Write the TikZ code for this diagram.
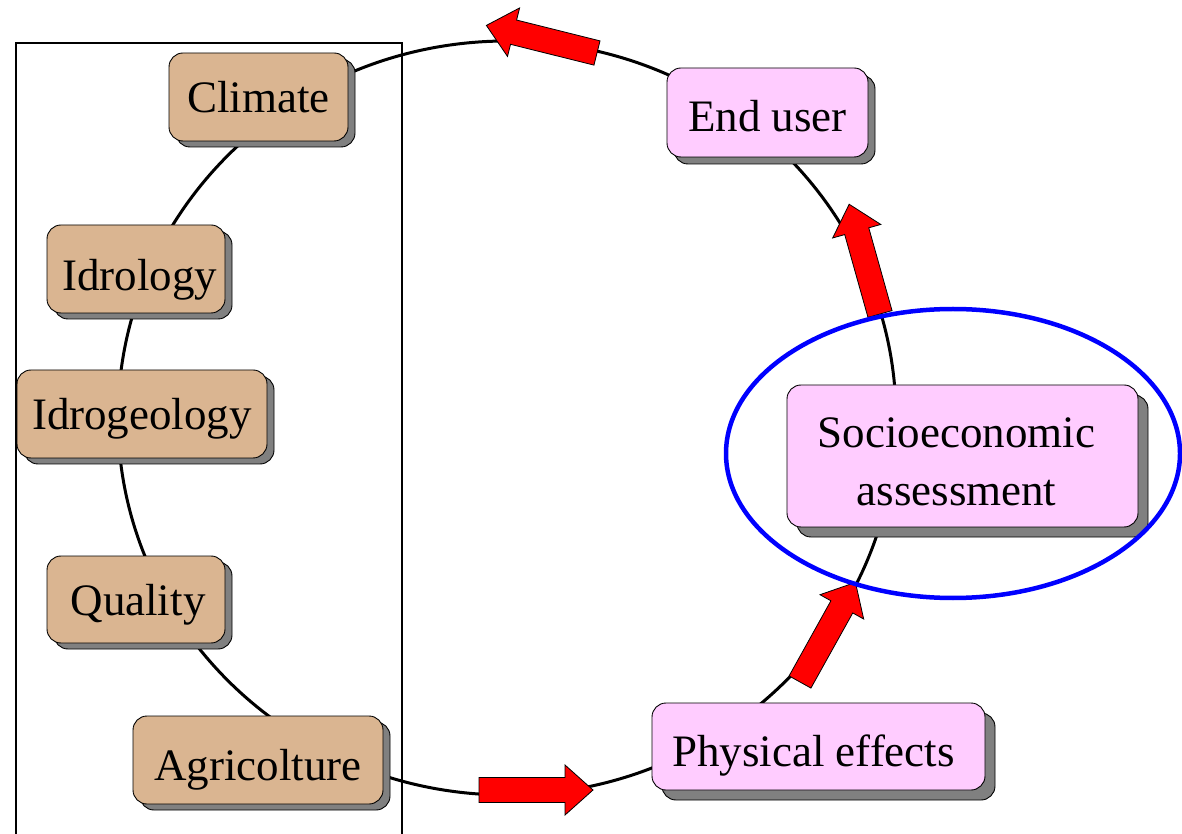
\documentclass[tikz,border=0pt]{standalone}
\usepackage{fontspec}
\setmainfont{Liberation Serif}
\usetikzlibrary{shadows}
\definecolor{tanfill}{RGB}{218,181,145}
\definecolor{pinkfill}{RGB}{255,204,255}
\definecolor{shadowgray}{RGB}{128,128,128}
\definecolor{ringblue}{RGB}{0,0,255}
\tikzset{
  boxbase/.style={draw=black, line width=0.9pt, rounded corners=14pt, inner sep=0pt,
    font=\fontsize{45}{58}\selectfont, align=center},
  oneline/.style={text height=#1, text depth=0pt},
  oneline/.default=32pt,
  tanbox/.style={boxbase, fill=tanfill,
    general shadow={fill=shadowgray, draw=black, line width=0.9pt, shadow xshift=7pt, shadow yshift=-6pt}},
  pinkbox/.style={boxbase, fill=pinkfill,
    general shadow={fill=shadowgray, draw=black, line width=0.9pt, shadow xshift=#1, shadow yshift=-#1}},
  pinkbox/.default=7pt,
  ring/.style={draw=black, line width=3pt},
  frame/.style={draw=black, line width=2.2pt},
  blockarrow/.pic={\draw[fill=red, draw=black, line width=0.8pt, line join=miter]
    (0,-12.5) -- (86,-12.5) -- (86,-25) -- (114,0) -- (86,25) -- (86,12.5) -- (0,12.5) -- cycle;}
}
\begin{document}
\begin{tikzpicture}[x=1pt,y=1pt]
\useasboundingbox (0,0) rectangle (1182,833);
% frame around the left group
\draw[frame] (16,-20) -- (16,790) -- (402,790) -- (402,-20);
% main ring
\draw[ring] (507,415) ellipse [x radius=389, y radius=377];
% left nodes
\node[tanbox, oneline=32pt, minimum width=179pt, minimum height=88pt] (climate) at (258.5,736) {Climate};
\node[tanbox, oneline=44pt, minimum width=178pt, minimum height=88pt] (idrology) at (136,564) {\hspace{8pt}Idrology};
\node[tanbox, oneline=32pt, minimum width=250pt, minimum height=88pt] (idrogeology) at (142,419) {Idrogeology};
\node[tanbox, oneline=32pt, minimum width=178pt, minimum height=87pt] (quality) at (136,233.5) {\hspace{4pt}Quality};
\node[tanbox, oneline=40pt, minimum width=250pt, minimum height=88pt] (agri) at (258,73) {Agricolture};
% right nodes
\node[pinkbox=7pt, oneline=39pt, minimum width=201pt, minimum height=89pt] (enduser) at (767.5,720.5) {End user};
\node[pinkbox=10pt, minimum width=351pt, minimum height=142pt] (socio) at (962.5,377)
  {\raisebox{-15pt}[60pt][60pt]{\begin{tabular}{@{}c@{}}Socioeconomic\\assessment\end{tabular}}\hspace{12pt}};
\node[pinkbox=10pt, oneline=40pt, minimum width=333pt, minimum height=87pt] (physical) at (818.5,86.5) {Physical effects\hspace{10pt}};
% block arrows along the ring
\pic[rotate=0] at (479,43) {blockarrow};
\pic[rotate=60.9] at (800,151) {blockarrow};
\pic[rotate=105.7] at (880,519) {blockarrow};
\pic[rotate=166] at (597,780) {blockarrow};
% highlight ellipse
\draw[draw=ringblue, line width=4.5pt] (socio.center) ++(-9.5,2.5) ellipse [x radius=227, y radius=144.5];
\end{tikzpicture}
\end{document}
